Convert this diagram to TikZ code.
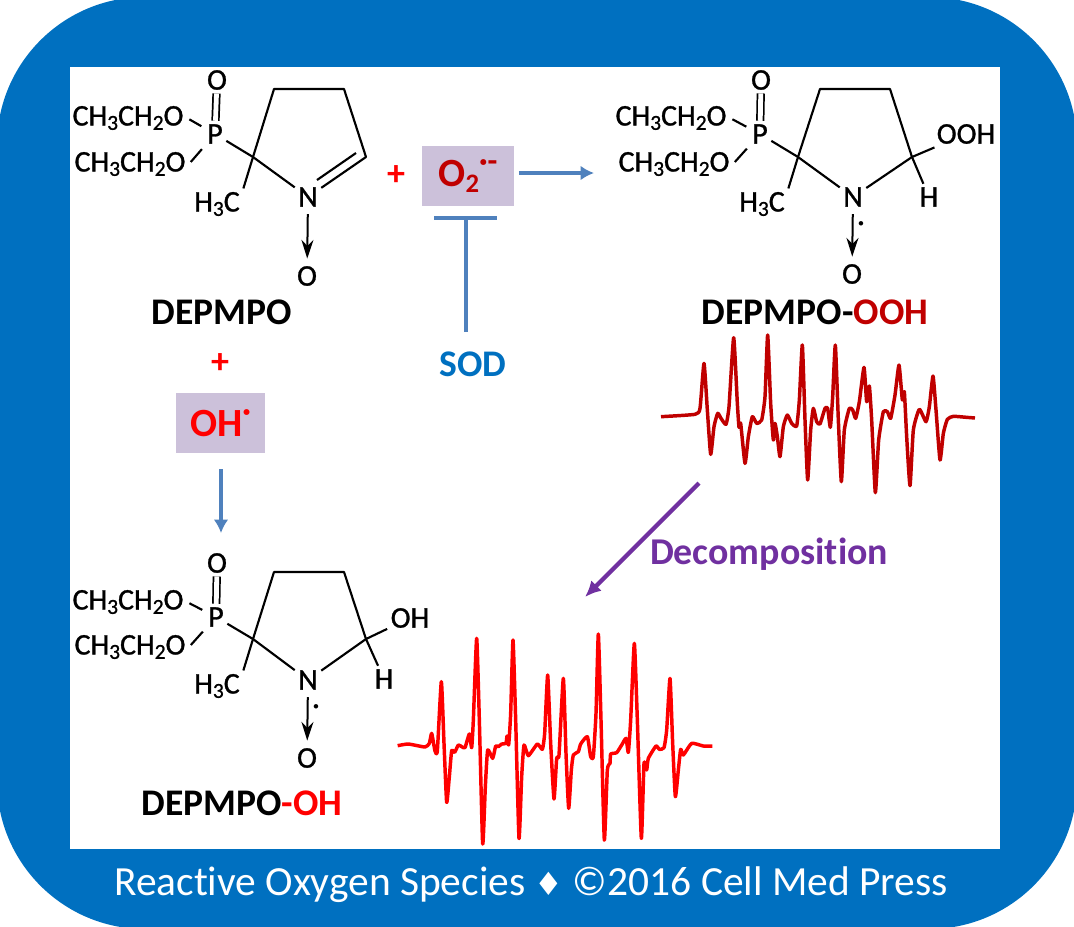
\documentclass[tikz,border=0pt]{standalone}
\usepackage{fontspec}
\setmainfont[Ligatures=CommonOff]{Carlito}
\newfontfamily\atomfont[Ligatures=CommonOff,FakeBold=1]{Carlito}
\newfontfamily\symbolfont{DejaVu Sans}
\usetikzlibrary{arrows.meta}
\definecolor{frameblue}{HTML}{0070C0}
\definecolor{arrowblue}{HTML}{4F81BD}
\definecolor{boxlilac}{HTML}{CCC1DA}
\definecolor{decaypurple}{HTML}{7030A0}
\definecolor{darkred}{HTML}{C00000}
\newcommand{\lowered}[1]{\raisebox{-0.3ex}{\fontsize{16}{16}\selectfont #1}}
\newcommand{\ethoxy}{CH\lowered{3}CH\lowered{2}O}
\newcommand{\methyl}{H\lowered{3}C}
\tikzset{
    atom/.style={font=\atomfont\fontsize{22.5}{23}\selectfont, inner sep=2.5pt},
    bond/.style={line width=1.6pt},
    sidebond/.style={line width=1.6pt, shorten <=2pt, shorten >=2pt},
    doublebond/.style={double, double distance=3.6pt, line width=1.3pt},
    dative/.style={line width=1.5pt, -{Stealth[length=14pt,width=9pt]}, shorten <=3pt, shorten >=3pt},
    title/.style={font=\fontsize{28.2}{29}\selectfont\bfseries, inner sep=0pt},
    radical/.style={font=\fontsize{18}{18}\selectfont\bfseries, inner sep=0pt},
    speciesbox/.style={fill=boxlilac, minimum height=45pt, font=\fontsize{30}{31}\selectfont\bfseries, inner sep=0pt},
    plus/.style={font=\fontsize{27}{27}\selectfont\bfseries, text=red, inner sep=0pt},
    bluearrow/.style={arrowblue, line width=3.4pt, -{Latex[length=10pt,width=11pt]}},
    bluebar/.style={arrowblue, line width=3.4pt},
    spectrum/.style={line width=2.6pt, line join=round}
}
\begin{document}
\begin{tikzpicture}[x=0.75pt, y=-0.75pt]
    \useasboundingbox (0,0) rectangle (1074,926);
    %Frame
    \fill[frameblue, rounded corners=111pt] (-3,-3) rectangle (1077,929);
    \fill[white] (70,67) rectangle (1000,849);

    %Nodes, DEPMPO
    \node[atom] at (217,80) (aO) {O};
    \node[atom] at (215,134) (aP) {P};
    \node[atom] at (128,118) (aEtA) {\ethoxy};
    \node[atom] at (130,164) (aEtB) {\ethoxy};
    \node[atom] at (217,204) (aMe) {\methyl};
    \node[atom] at (308,197) (aN) {N};
    \node[atom] at (307,276) (aNO) {O};
    \coordinate (aC2) at (253,157);
    \coordinate (aC3) at (274,89);
    \coordinate (aC4) at (344,89);
    \coordinate (aC5) at (366,157);
    \coordinate (aI1) at (317,180);
    \coordinate (aI2) at (356,153);
    \node[title] at (222,312) (aName) {DEPMPO};

    %Nodes, DEPMPO-OOH
    \node[atom] at (761,80) (bO) {O};
    \node[atom] at (760,134) (bP) {P};
    \node[atom] at (671,118) (bEtA) {\ethoxy};
    \node[atom] at (674,164) (bEtB) {\ethoxy};
    \node[atom] at (762,204) (bMe) {\methyl};
    \node[atom] at (853,197) (bN) {N};
    \node[atom] at (852,274) (bNO) {O};
    \node[atom] at (966,134) (bOOH) {OOH};
    \node[atom] at (929,197) (bH) {H};
    \coordinate (bC2) at (798,157);
    \coordinate (bC3) at (820,89);
    \coordinate (bC4) at (890,89);
    \coordinate (bC5) at (912,157);
    \node[radical] at (861,226) (bDot) {·};
    \node[title] at (815,312) (bName) {DEPMPO-\textcolor{darkred}{OOH}};

    %Nodes, DEPMPO-OH
    \node[atom] at (217,563) (cO) {O};
    \node[atom] at (216,617) (cP) {P};
    \node[atom] at (128,602) (cEtA) {\ethoxy};
    \node[atom] at (130,647) (cEtB) {\ethoxy};
    \node[atom] at (217,686) (cMe) {\methyl};
    \node[atom] at (308,680) (cN) {N};
    \node[atom] at (307,758) (cNO) {O};
    \node[atom] at (410,618) (cOH) {OH};
    \node[atom] at (384,679) (cH) {H};
    \coordinate (cC2) at (253,639);
    \coordinate (cC3) at (274,572);
    \coordinate (cC4) at (344,572);
    \coordinate (cC5) at (366,639);
    \node[radical] at (316,709) (cDot) {·};
    \node[title] at (242,803) (cName) {DEPMPO\textcolor{red}{-OH}};

    %Nodes, middle
    \node[plus] at (396,176) (plusA) {+};
    \node[speciesbox, minimum width=69pt, text=darkred] at (468,176) (oxBox) {O\lowered{\fontsize{20}{20}\selectfont 2}\raisebox{0.8ex}{\fontsize{24}{24}\selectfont ·-}};
    \node[title, text=frameblue] at (473,364) (sod) {SOD};
    \node[plus] at (220,364) (plusB) {+};
    \node[speciesbox, minimum width=67pt, text=red] at (220.5,423) (ohBox) {OH\raisebox{0.8ex}{\fontsize{24}{24}\selectfont ·}};
    \node[title, text=decaypurple, font=\fontsize{28.4}{29}\selectfont\bfseries] at (769,554) (decay) {Decomposition};
    \node[text=white, font=\fontsize{31.1}{32}\selectfont, inner sep=0pt] at (531,885) (footer) {Reactive Oxygen Species {\symbolfont\fontsize{24}{24}\selectfont ♦} ©2016 Cell Med Press};
    \coordinate (oxEnd) at (594,173);
    \coordinate (barL) at (434,218);
    \coordinate (barR) at (497,218);
    \coordinate (barM) at (466,218);
    \coordinate (sodTop) at (466,332);
    \coordinate (ohEnd) at (221,533);
    \coordinate (decayA) at (699,483);
    \coordinate (decayB) at (585,597);

    %Lines, DEPMPO
    \draw[doublebond] (aO) -- (aP);
    \draw[sidebond] (aEtA.east) -- (aP);
    \draw[sidebond] (aEtB.east) -- (aP);
    \draw[bond] (aP) -- (aC2) -- (aN);
    \draw[bond, line join=round] (aMe.north east) -- (aC2) -- (aC3) -- (aC4) -- (aC5) -- (aN);
    \draw[bond] (aI1) -- (aI2);
    \draw[dative] (aN) -- (aNO);

    %Lines, DEPMPO-OOH
    \draw[doublebond] (bO) -- (bP);
    \draw[sidebond] (bEtA.east) -- (bP);
    \draw[sidebond] (bEtB.east) -- (bP);
    \draw[bond] (bP) -- (bC2) -- (bN);
    \draw[bond, line join=round] (bMe.north east) -- (bC2) -- (bC3) -- (bC4) -- (bC5) -- (bN);
    \draw[bond] (bC5) -- (bOOH);
    \draw[bond] (bC5) -- (bH);
    \draw[dative] (bN) -- (bNO);

    %Lines, DEPMPO-OH
    \draw[doublebond] (cO) -- (cP);
    \draw[sidebond] (cEtA.east) -- (cP);
    \draw[sidebond] (cEtB.east) -- (cP);
    \draw[bond] (cP) -- (cC2) -- (cN);
    \draw[bond, line join=round] (cMe.north east) -- (cC2) -- (cC3) -- (cC4) -- (cC5) -- (cN);
    \draw[bond] (cC5) -- (cOH);
    \draw[bond] (cC5) -- (cH);
    \draw[dative] (cN) -- (cNO);

    %Lines, middle
    \draw[bluearrow, shorten <=3.5pt] (oxBox.east |- oxEnd) -- (oxEnd);
    \draw[bluebar] (barL) -- (barR);
    \draw[bluebar] (sodTop) -- (barM);
    \draw[bluearrow, shorten <=12pt] (ohBox.south -| ohEnd) -- (ohEnd);
    \draw[decaypurple, line width=3.2pt, -{Latex[length=12pt,width=11pt]}] (decayA) -- (decayB);

    %Spectra
    \begin{scope}[shift={(650,320)}, x=0.25pt, y=-0.25pt]
        \draw[spectrum, darkred] plot[smooth, tension=0.3] coordinates {(33,290) (135,283) (150,265) (162,130) (172,270) (182,403) (192,320) (203,280) (213,295) (228,313) (237,260) (251,53) (262,250) (267,322) (272,310) (285,430) (295,350) (307,290) (320,310) (335,300) (345,230) (353,45) (362,250) (370,360) (375,310) (382,350) (390,410) (400,320) (412,285) (425,310) (440,318) (448,240) (457,75) (465,300) (473,480) (482,330) (490,265) (500,305) (510,312) (525,265) (533,265) (541,322) (548,230) (556,75) (565,300) (574,485) (583,330) (598,265) (608,270) (617,295) (628,245) (642,142) (650,245) (658,198) (665,300) (676,518) (686,360) (700,275) (712,275) (722,295) (735,225) (747,135) (757,240) (763,215) (770,350) (780,497) (790,330) (808,268) (828,305) (838,260) (849,168) (858,270) (870,420) (880,340) (892,298) (910,289) (950,292) (975,294)};
    \end{scope}
    \begin{scope}[shift={(380,620)}, x=0.25pt, y=-0.25pt]
        \draw[spectrum, red] plot[smooth, tension=0.3] coordinates {(53,377) (85,372) (135,381) (148,370) (155,340) (165,393) (172,393) (184,185) (192,370) (200,547) (208,470) (215,392) (224,397) (235,375) (245,380) (255,383) (268,342) (275,383) (280,300) (290,55) (298,300) (308,672) (316,500) (323,390) (338,415) (347,378) (355,380) (365,372) (378,370) (381,348) (386,375) (392,280) (399,60) (407,300) (417,655) (425,470) (432,375) (445,407) (472,372) (487,388) (494,340) (503,165) (512,370) (522,537) (530,415) (537,405) (550,175) (558,400) (566,565) (574,450) (580,405) (595,395) (602,372) (622,350) (632,410) (640,410) (648,280) (655,42) (663,300) (673,660) (682,450) (690,430) (692,402) (710,398) (725,375) (738,355) (745,397) (752,300) (763,70) (772,300) (784,655) (792,430) (800,450) (805,415) (828,378) (838,388) (852,383) (860,330) (870,175) (878,370) (886,530) (895,450) (902,388) (910,405) (935,370) (970,378) (997,378)};
    \end{scope}
\end{tikzpicture}
\end{document}
